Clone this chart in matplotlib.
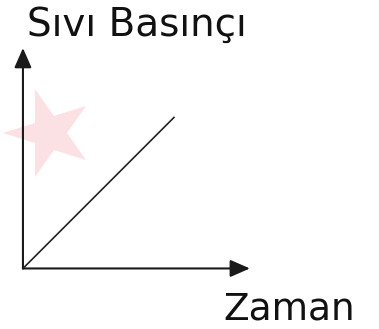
import matplotlib.pyplot as plt
from matplotlib.markers import MarkerStyle
from matplotlib.transforms import Affine2D

# data: liquid pressure rises linearly with time
zaman = [0.0, 1.0]
basinc = [0.0, 1.0]
x_label = "Zaman"
y_label = "Sıvı Basınçı"

fig = plt.figure(figsize=(3.79, 3.29), dpi=100)
ax = fig.add_axes([0, 0, 1, 1])
ax.set_xlim(-0.152, 2.358)
ax.set_ylim(-0.401, 1.778)
ax.axis("off")

# faint watermark star
star = MarkerStyle("*", transform=Affine2D().rotate_deg(90))
ax.plot([0.172], [0.897], marker=star, markersize=66, color="#fbe1e4",
        markeredgewidth=0, zorder=0)

# axes with arrows
arrow = dict(arrowstyle="-|>,head_length=0.8,head_width=0.35", mutation_scale=15,
             color="#1a1a1a", lw=1.5, shrinkA=0, shrinkB=0)
ax.annotate("", xy=(1.503, 0), xytext=(0, 0), arrowprops=arrow)
ax.annotate("", xy=(0, 1.46), xytext=(0, 0), arrowprops=arrow)

ax.plot(zaman, basinc, color="#222222", lw=1.2)

ax.text(0.026, 1.54, y_label, fontsize=28, va="baseline", ha="left", color="#111111")
ax.text(1.325, -0.341, x_label, fontsize=27, va="baseline", ha="left", color="#111111")

fig.savefig("out.png", dpi=100)
